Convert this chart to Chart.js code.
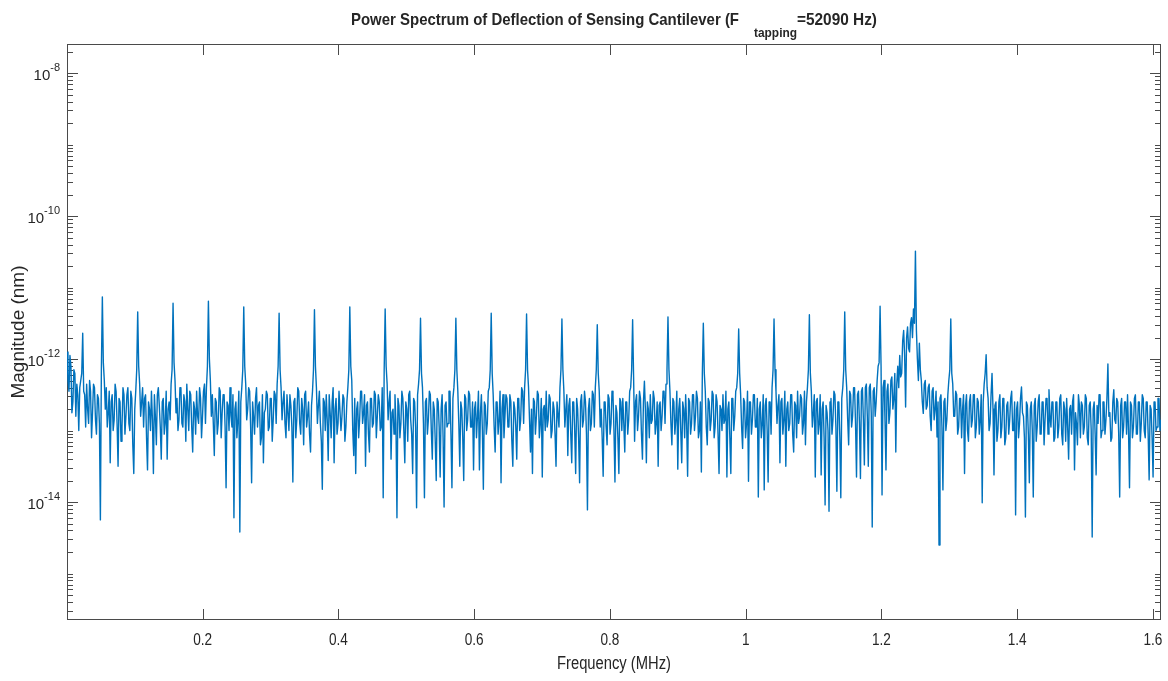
<!DOCTYPE html>
<html>
<head>
<meta charset="utf-8">
<script src="https://cdn.jsdelivr.net/npm/chart.js@4.4.0/dist/chart.umd.min.js"></script>
<style>
  html, body { margin: 0; padding: 0; background: #fff; }
  #wrap { width: 1168px; height: 681px; }
</style>
</head>
<body>
<div id="wrap"><canvas id="spectrum" width="1168" height="681"></canvas></div>
<script>
// Tapping frequency and the FFT bin width (36 bins per harmonic)
const tappingMHz = 0.05209;
const binMHz = tappingMHz / 36;

// log10 of magnitude (nm) per bin, one harmonic per line
const magLog10 = [
  -11.9, -12.3, -12.45, -11.95, -12.1, -12.75, -12.6, -12.15, -12.2, -12.8, -12.35, -12.5, -13.0, -12.4, -12.3, -12.2, -11.64, -12.45, -12.5, -12.95, -12.35, -12.7, -12.9, -12.3, -12.45, -13.1, -12.75, -12.35, -12.4, -12.85, -13.05, -12.5, -12.55, -12.9, -14.25, -12.15,
  -11.13, -12.05, -12.3, -12.7, -12.4, -12.95, -12.75, -12.45, -13.45, -12.6, -12.5, -13.0, -12.85, -12.35, -12.45, -12.9, -13.5, -12.55, -12.6, -13.15, -12.95, -12.4, -12.5, -13.05, -12.8, -12.5, -12.4, -12.9, -13.0, -12.45, -12.55, -13.2, -13.6, -12.7, -12.45, -12.15,
  -11.34, -12.1, -12.35, -12.8, -12.6, -12.4, -12.95, -12.55, -12.5, -13.1, -13.55, -12.6, -12.7, -13.0, -12.45, -12.85, -13.6, -12.5, -12.8, -13.2, -12.5, -12.4, -12.65, -12.95, -13.4, -12.6, -12.55, -13.05, -12.9, -12.45, -13.4, -12.7, -12.6, -12.85, -12.35, -12.15,
  -11.22, -12.05, -12.3, -12.75, -12.55, -13.0, -12.85, -12.4, -12.4, -12.9, -12.95, -12.5, -12.6, -13.15, -12.35, -12.7, -13.0, -12.45, -12.5, -12.95, -13.3, -12.6, -12.7, -13.05, -12.45, -12.8, -12.9, -12.4, -12.55, -13.1, -12.8, -12.45, -12.35, -12.9, -12.4, -12.1,
  -11.19, -12.0, -12.3, -12.8, -12.5, -12.9, -13.35, -12.55, -12.6, -13.05, -12.9, -12.4, -12.45, -13.1, -12.75, -12.5, -12.5, -12.95, -13.8, -12.6, -12.65, -13.0, -12.4, -12.8, -12.95, -12.5, -14.22, -12.7, -12.6, -13.1, -12.85, -12.45, -14.42, -12.6, -12.4, -12.15,
  -11.27, -12.1, -12.35, -12.85, -12.7, -12.4, -12.45, -12.95, -13.73, -12.6, -12.8, -13.05, -12.55, -12.4, -12.95, -12.65, -12.6, -13.2, -13.1, -12.5, -13.45, -12.75, -12.7, -12.45, -12.5, -13.0, -12.95, -12.55, -12.55, -13.15, -12.85, -12.45, -12.5, -12.9, -12.35, -12.1,
  -11.36, -12.15, -12.4, -12.85, -12.6, -12.45, -12.9, -13.1, -12.5, -12.75, -13.0, -12.5, -12.65, -12.95, -13.72, -12.6, -12.55, -13.1, -12.85, -12.4, -12.45, -12.9, -13.05, -12.55, -12.7, -13.2, -12.5, -12.45, -12.95, -12.8, -12.6, -13.05, -13.3, -12.65, -12.45, -12.15,
  -11.31, -12.1, -12.4, -12.9, -12.65, -12.45, -12.9, -13.15, -13.82, -12.55, -12.6, -13.0, -12.5, -12.85, -13.42, -12.5, -12.75, -13.1, -12.6, -12.4, -13.45, -12.7, -12.55, -13.05, -12.9, -12.45, -12.45, -13.0, -12.8, -12.5, -12.55, -13.15, -12.95, -12.6, -12.4, -12.15,
  -11.27, -12.1, -12.3, -13.0, -13.35, -12.55, -13.6, -12.7, -12.6, -13.1, -12.85, -12.45, -12.45, -12.9, -12.75, -12.5, -13.5, -12.65, -12.6, -13.05, -13.3, -12.55, -12.55, -12.95, -12.9, -12.45, -12.5, -13.1, -12.8, -12.5, -12.6, -13.0, -12.95, -12.4, -13.94, -12.15,
  -11.30, -12.1, -12.35, -12.85, -12.6, -12.45, -13.4, -12.75, -12.7, -13.05, -12.5, -12.9, -14.22, -12.55, -12.65, -13.1, -12.9, -12.45, -12.55, -13.0, -13.45, -12.6, -12.7, -13.15, -12.5, -12.45, -12.85, -13.05, -13.6, -12.55, -12.6, -12.95, -14.08, -12.5, -12.35, -12.15,
  -11.43, -12.2, -12.4, -12.9, -13.94, -12.6, -12.55, -13.05, -12.85, -12.45, -12.5, -13.0, -13.4, -12.6, -12.7, -13.15, -13.7, -12.55, -12.6, -12.95, -13.65, -12.7, -12.5, -13.1, -14.07, -12.65, -12.6, -12.95, -12.9, -12.45, -12.45, -13.05, -13.8, -12.55, -12.4, -12.15,
  -11.43, -12.15, -12.45, -12.9, -13.5, -12.6, -12.7, -13.1, -13.7, -12.5, -12.55, -13.0, -12.85, -12.45, -12.5, -12.95, -12.95, -12.6, -13.55, -12.7, -12.6, -13.1, -12.8, -12.45, -13.55, -12.75, -12.5, -13.0, -13.82, -12.6, -12.65, -13.05, -12.9, -12.45, -12.4, -12.15,
  -11.36, -12.2, -12.5, -12.95, -13.3, -12.6, -12.6, -13.05, -12.85, -12.45, -13.73, -12.7, -12.5, -13.1, -12.8, -12.5, -12.55, -12.95, -12.95, -12.5, -12.6, -13.15, -13.5, -12.6, -12.7, -12.95, -13.4, -12.55, -12.55, -13.0, -12.85, -12.4, -12.45, -12.9, -12.4, -12.15,
  -11.37, -12.15, -12.4, -12.85, -13.3, -12.7, -13.6, -12.55, -12.6, -13.05, -12.8, -12.45, -12.5, -13.1, -12.9, -12.55, -13.65, -12.7, -12.65, -13.0, -12.45, -12.95, -12.85, -12.5, -12.55, -13.1, -13.0, -12.6, -12.7, -13.05, -13.5, -12.6, -12.6, -12.95, -12.4, -12.15,
  -11.44, -12.15, -12.45, -12.95, -12.7, -12.5, -13.35, -12.65, -12.55, -13.05, -13.45, -12.6, -12.6, -13.0, -13.6, -12.55, -12.7, -13.1, -13.73, -12.6, -12.5, -12.95, -12.85, -12.45, -12.6, -13.05, -14.11, -12.7, -12.55, -13.0, -12.9, -12.45, -12.5, -12.95, -12.4, -12.15,
  -11.52, -12.2, -12.45, -12.95, -12.7, -13.1, -13.64, -12.6, -12.6, -12.95, -13.2, -12.5, -12.55, -13.05, -12.9, -12.45, -12.5, -13.0, -13.72, -12.65, -12.75, -13.1, -13.6, -12.55, -12.6, -13.0, -12.55, -12.9, -13.3, -12.6, -12.6, -13.05, -12.85, -12.45, -12.4, -12.15,
  -11.45, -12.25, -13.15, -12.6, -12.5, -13.0, -12.8, -12.45, -12.55, -13.05, -13.4, -12.6, -12.31, -12.7, -13.45, -12.6, -12.7, -13.1, -12.5, -12.9, -12.85, -12.45, -12.55, -13.05, -12.9, -12.6, -13.5, -12.65, -12.6, -13.0, -12.8, -12.45, -12.45, -12.9, -12.35, -12.15,
  -11.41, -12.15, -12.45, -12.9, -13.2, -12.55, -12.6, -13.05, -12.85, -12.45, -13.54, -12.7, -12.55, -13.0, -13.45, -12.6, -12.7, -13.1, -12.5, -12.9, -13.64, -12.55, -12.6, -13.05, -12.9, -12.5, -12.5, -13.0, -12.8, -12.45, -12.55, -13.1, -13.0, -12.6, -13.58, -12.2,
  -11.50, -12.2, -12.45, -12.95, -13.2, -12.55, -12.6, -13.0, -12.85, -12.45, -12.5, -13.1, -12.95, -12.5, -12.6, -13.05, -13.6, -12.65, -12.7, -13.0, -12.5, -12.9, -12.85, -12.45, -13.65, -12.7, -12.6, -13.1, -13.6, -12.55, -12.55, -13.0, -12.8, -12.45, -12.4, -12.2,
  -11.58, -12.2, -12.5, -12.95, -13.25, -12.55, -12.6, -13.1, -12.9, -12.45, -13.71, -12.6, -12.6, -13.05, -12.85, -12.5, -12.5, -12.95, -12.95, -12.55, -13.93, -12.7, -12.6, -13.1, -12.9, -12.5, -13.83, -12.65, -12.55, -13.0, -13.72, -12.6, -12.6, -13.05, -12.4, -12.15,
  -11.44, -12.15, -12.45, -12.9, -12.65, -12.5, -13.45, -12.6, -12.55, -13.05, -12.85, -12.45, -13.5, -12.7, -12.6, -13.0, -12.9, -12.5, -12.5, -13.05, -13.3, -12.6, -12.65, -13.1, -12.45, -12.9, -12.8, -12.5, -12.55, -13.05, -12.9, -12.45, -13.2, -12.6, -12.4, -12.15,
  -11.38, -12.2, -12.45, -12.95, -12.75, -12.5, -13.65, -12.6, -12.55, -13.05, -12.9, -12.5, -13.62, -12.7, -12.6, -13.1, -14.04, -12.65, -12.75, -13.0, -14.13, -12.6, -12.55, -13.05, -12.85, -12.45, -12.5, -12.95, -13.85, -12.6, -12.6, -13.1, -13.94, -12.55, -12.4, -12.15,
  -11.34, -12.15, -12.4, -12.85, -13.2, -12.45, -12.5, -12.95, -12.8, -12.4, -12.4, -12.9, -13.65, -12.5, -12.45, -12.9, -13.67, -12.45, -12.4, -12.85, -13.48, -12.4, -12.35, -12.8, -13.5, -12.4, -12.35, -12.75, -14.35, -12.45, -12.4, -12.8, -12.6, -12.3, -12.1, -12.05,
  -11.26, -12.1, -13.9, -12.4, -12.3, -12.85, -13.55, -12.45, -12.35, -12.9, -12.75, -12.3, -12.25, -12.7, -12.55, -12.2, -13.3, -12.35, -12.1, -12.4, -11.95, -12.25, -12.2, -11.75, -11.6, -11.95, -12.67, -11.7, -11.55, -11.85, -11.9, -11.5, -11.42, -11.7, -11.3, -11.5,
  -10.49, -11.6, -12.0, -12.3, -11.78, -12.15, -12.3, -12.6, -12.76, -12.35, -12.3, -12.7, -12.65, -12.4, -12.35, -12.8, -13.0, -12.45, -12.4, -12.85, -12.7, -12.45, -13.09, -12.6, -14.6, -12.55, -12.5, -12.95, -13.83, -12.6, -12.55, -13.0, -12.85, -12.5, -12.3, -12.15,
  -11.44, -12.2, -12.35, -12.8, -12.8, -12.45, -12.5, -13.05, -12.95, -12.55, -12.55, -13.1, -12.7, -12.5, -13.6, -12.65, -12.5, -13.0, -13.15, -12.6, -12.5, -12.95, -12.85, -12.5, -12.5, -13.1, -12.95, -12.55, -12.6, -13.05, -12.85, -12.5, -14.01, -12.6, -12.35, -12.2,
  -11.94, -12.4, -12.55, -13.0, -12.9, -12.5, -12.2, -12.7, -13.62, -12.65, -12.6, -13.15, -13.0, -12.6, -12.5, -13.1, -12.95, -12.55, -12.55, -13.2, -13.1, -12.65, -12.6, -13.05, -12.85, -12.55, -12.45, -13.0, -13.0, -12.6, -14.18, -12.7, -12.6, -13.1, -12.9, -12.55,
  -12.39, -12.75, -12.8, -13.1, -14.21, -12.6, -12.65, -13.05, -13.73, -12.7, -12.6, -13.0, -13.93, -12.65, -12.55, -13.15, -12.95, -12.6, -12.5, -13.05, -13.05, -12.6, -12.6, -13.2, -12.85, -12.55, -12.55, -13.05, -12.43, -12.8, -12.95, -12.6, -12.6, -13.15, -13.1, -12.6,
  -12.6, -13.1, -12.95, -12.55, -12.5, -13.05, -13.2, -12.6, -12.7, -13.15, -12.55, -12.95, -13.4, -12.7, -12.65, -13.05, -12.6, -12.5, -13.55, -12.75, -12.9, -13.2, -12.5, -12.65, -13.1, -12.6, -12.65, -13.05, -12.95, -12.5, -12.55, -13.1, -13.2, -12.65, -12.6, -13.0,
  -14.49, -12.7, -12.6, -13.05, -13.62, -12.65, -12.9, -12.5, -12.5, -13.1, -13.0, -12.6, -12.6, -13.05, -12.85, -12.55, -12.07, -12.8, -12.75, -13.15, -13.1, -12.6, -12.43, -12.85, -12.9, -12.55, -12.6, -13.05, -13.93, -12.65, -12.55, -13.1, -12.95, -12.6, -12.6, -13.05,
  -12.5, -13.0, -13.8, -12.6, -12.65, -13.1, -12.95, -12.55, -12.5, -13.05, -13.05, -12.6, -12.6, -13.15, -12.9, -12.5, -12.55, -13.0, -13.1, -12.6, -12.6, -13.05, -13.69, -12.65, -12.7, -13.1, -13.65, -12.6, -12.6, -13.0, -12.95, -12.55, -12.55, -13.0, -12.85
];

// Axis ticks and labels
const xTickValues = [0.2, 0.4, 0.6, 0.8, 1, 1.2, 1.4, 1.6];
const xTickLabels = ['0.2', '0.4', '0.6', '0.8', '1', '1.2', '1.4', '1.6'];
const yLabelExponents = [-8, -10, -12, -14];
const xRange = [0, 1.612];
const yRange = [2.24e-16, 2.55e-8];

const lineColor = '#0072BD';
const textColor = '#262626';
const axisColor = '#4a4a4a';
const majorTick = 11;
const minorTick = 6;
const narrow = 0.8; // matlab text here looks condensed

const points = magLog10.map((e, i) => ({ x: i * binMHz, y: Math.pow(10, e) }));

// draw text squeezed horizontally, anchored at its centre or left edge
function squeezedText(ctx, text, x, y, sx, align) {
  const w = ctx.measureText(text).width * sx;
  ctx.save();
  ctx.translate(align === 'center' ? x - w / 2 : x, y);
  ctx.scale(sx, 1);
  ctx.textAlign = 'left';
  ctx.fillText(text, 0, 0);
  ctx.restore();
}

// matlab style box, inward ticks, tick labels, axis label and title
const matlabAxes = {
  id: 'matlabAxes',
  beforeDatasetsDraw(chart) {
    const { ctx, chartArea: a, scales: { x, y } } = chart;
    ctx.save();
    ctx.strokeStyle = axisColor;
    ctx.lineWidth = 1;
    ctx.beginPath();
    xTickValues.forEach(v => {
      const px = Math.round(x.getPixelForValue(v)) + 0.5;
      ctx.moveTo(px, a.bottom); ctx.lineTo(px, a.bottom - majorTick);
      ctx.moveTo(px, a.top); ctx.lineTo(px, a.top + majorTick);
    });
    for (let e = -17; e <= -7; e++) {
      for (let m = 1; m <= 9; m++) {
        const v = m * Math.pow(10, e);
        if (v < y.min || v > y.max) continue;
        const py = Math.round(y.getPixelForValue(v)) + 0.5;
        const len = (m === 1 && yLabelExponents.includes(e)) ? majorTick : minorTick;
        ctx.moveTo(a.left, py); ctx.lineTo(a.left + len, py);
        ctx.moveTo(a.right, py); ctx.lineTo(a.right - len, py);
      }
    }
    ctx.stroke();
    ctx.strokeRect(a.left + 0.5, a.top + 0.5, a.right - a.left - 1, a.bottom - a.top - 1);
    ctx.restore();
  },
  afterDraw(chart) {
    const { ctx, chartArea: a, scales: { x, y } } = chart;
    ctx.save();
    ctx.fillStyle = textColor;
    ctx.textBaseline = 'middle';

    // y tick labels 10^n
    yLabelExponents.forEach(e => {
      const py = y.getPixelForValue(Math.pow(10, e));
      const sup = '-' + Math.abs(e);
      ctx.font = '11px "Liberation Sans", Arial, sans-serif';
      const supW = ctx.measureText(sup).width;
      ctx.textAlign = 'left';
      ctx.fillText(sup, 60 - supW, py - 5);
      ctx.font = '15px "Liberation Sans", Arial, sans-serif';
      ctx.textAlign = 'right';
      ctx.fillText('10', 60 - supW, py + 3);
    });

    // x tick labels and x axis label
    ctx.font = '17px "Liberation Sans", Arial, sans-serif';
    xTickValues.forEach((v, i) => {
      squeezedText(ctx, xTickLabels[i], x.getPixelForValue(v), a.bottom + 20, narrow, 'center');
    });
    ctx.font = '18px "Liberation Sans", Arial, sans-serif';
    squeezedText(ctx, 'Frequency (MHz)', (a.left + a.right) / 2, 664, 0.82, 'center');

    // title with subscript
    const cx = (a.left + a.right) / 2;
    ctx.textBaseline = 'alphabetic';
    const fitText = (text, font, left, base, width) => {
      ctx.font = font;
      squeezedText(ctx, text, left, base, width / ctx.measureText(text).width, 'left');
    };
    const bold = 'bold 17px "Liberation Sans", Arial, sans-serif';
    fitText('Power Spectrum of Deflection of Sensing Cantilever (F', bold, cx - 263, 25, 388);
    fitText('tapping', 'bold 12px "Liberation Sans", Arial, sans-serif', cx + 140, 37, 43);
    fitText('=52090 Hz)', bold, cx + 183, 25, 80);
    ctx.restore();
  }
};

new Chart(document.getElementById('spectrum'), {
  type: 'line',
  data: {
    datasets: [{
      data: points,
      borderColor: lineColor,
      borderWidth: 1.4,
      borderJoinStyle: 'round',
      pointRadius: 0,
      tension: 0,
      fill: false
    }]
  },
  options: {
    responsive: false,
    animation: false,
    events: [],
    layout: { padding: { top: 44, right: 7, left: 0, bottom: 0 } },
    plugins: {
      legend: { display: false },
      title: { display: false },
      tooltip: { enabled: false }
    },
    scales: {
      x: {
        type: 'linear',
        min: xRange[0],
        max: xRange[1],
        bounds: 'data',
        grid: { display: false, drawTicks: false },
        border: { display: false },
        ticks: { display: false },
        afterFit: axis => { axis.height = 61; }
      },
      y: {
        type: 'logarithmic',
        min: yRange[0],
        max: yRange[1],
        bounds: 'data',
        grid: { display: false, drawTicks: false },
        border: { display: false },
        ticks: { display: false },
        afterFit: axis => { axis.width = 67; },
        title: {
          display: true,
          text: 'Magnitude (nm)',
          color: textColor,
          font: { family: '"Liberation Sans", Arial, sans-serif', size: 19 },
          padding: { top: 7, bottom: 0 }
        }
      }
    }
  },
  plugins: [matlabAxes]
});
</script>
</body>
</html>
